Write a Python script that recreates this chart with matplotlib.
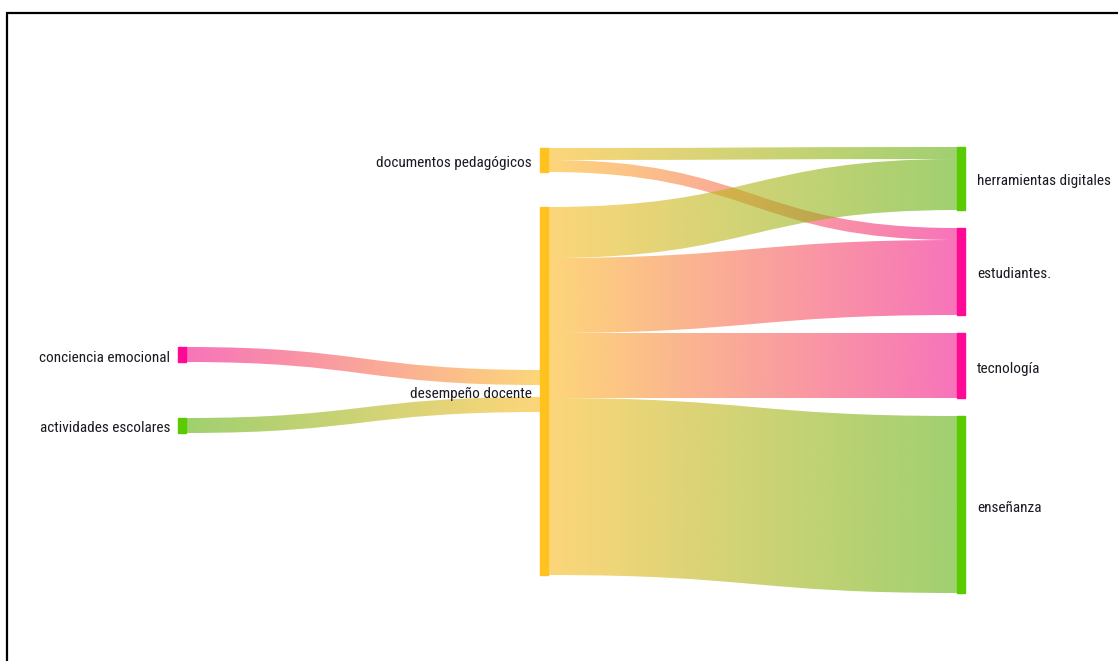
import numpy as np
import matplotlib.pyplot as plt
from matplotlib import font_manager as fm
from matplotlib.path import Path
from matplotlib.patches import PathPatch
from matplotlib.colors import to_rgb

# datos del sankey
columnas = [
    ["conciencia emocional", "actividades escolares"],
    ["documentos pedagógicos", "desempeño docente"],
    ["herramientas digitales", "estudiantes.", "tecnología", "enseñanza"],
]
origen = ["conciencia emocional", "actividades escolares",
          "documentos pedagógicos", "documentos pedagógicos",
          "desempeño docente", "desempeño docente",
          "desempeño docente", "desempeño docente"]
destino = ["desempeño docente", "desempeño docente",
           "herramientas digitales", "estudiantes.",
           "herramientas digitales", "estudiantes.",
           "tecnología", "enseñanza"]
valores = [15, 15, 12, 12, 51, 75, 65, 177]

colores_nodo = {
    "conciencia emocional": "#FF0A94", "actividades escolares": "#5ACB00",
    "documentos pedagógicos": "#FFC21E", "desempeño docente": "#FFC21E",
    "herramientas digitales": "#5ACB00", "estudiantes.": "#FF0A94",
    "tecnología": "#FF0A94", "enseñanza": "#5ACB00",
}
colores_link = {"#FF0A94": "#F2178C", "#5ACB00": "#61B111", "#FFC21E": "#FCBB21"}

# layout (pixeles)
W, H = 1118, 661
col_x = [178, 540, 957]
col_top = [347, 148, 147]
col_gap = [56, 35, 18]
ancho = 8
gap_entrada = 12

# buscar una fuente angosta, si no hay usar Liberation Sans mas chica
def buscar(fam, stretch='normal'):
    try:
        return fm.findfont(fm.FontProperties(family=fam, stretch=stretch), fallback_to_default=False)
    except ValueError:
        return None

fuente = dict(family='Liberation Sans', fontsize=9.5)
for fam, st, tam in [('Liberation Sans Narrow', 'normal', 11.5), ('Roboto Condensed', 'normal', 11),
                     ('Open Sans Condensed', 'normal', 11), ('DejaVu Sans', 'condensed', 10)]:
    p = buscar(fam, st)
    if p and (st == 'normal' or 'ondensed' in p):
        fuente = dict(family=fam, fontstretch=st, fontsize=tam)
        break

fig = plt.figure(figsize=(W / 100, H / 100), dpi=100)
ax = fig.add_axes([0, 0, 1, 1])
ax.set_xlim(0, W)
ax.set_ylim(H, 0)
ax.axis('off')

# tamanio de nodos
entra = {}
sale = {}
for o, d, v in zip(origen, destino, valores):
    sale[o] = sale.get(o, 0) + v
    entra[d] = entra.get(d, 0) + v

pos = {}
for c, nodos in enumerate(columnas):
    y = col_top[c]
    for n in nodos:
        alto = max(entra.get(n, 0), sale.get(n, 0))
        pos[n] = (col_x[c], y, alto)
        y += alto + col_gap[c]

# offsets de links
links = list(zip(origen, destino, valores))
y_sal = {}
for n in pos:
    y = pos[n][1]
    for i in sorted([i for i, l in enumerate(links) if l[0] == n], key=lambda i: pos[links[i][1]][1]):
        y_sal[i] = y
        y += links[i][2]
y_ent = {}
for n in pos:
    ids = sorted([i for i, l in enumerate(links) if l[1] == n], key=lambda i: pos[links[i][0]][1])
    if not ids:
        continue
    total = sum(links[i][2] for i in ids)
    alto = pos[n][2]
    if total < alto:
        total_g = total + gap_entrada * (len(ids) - 1)
        y = pos[n][1] + (alto - total_g) / 2
        g = gap_entrada
    else:
        y = pos[n][1]
        g = 0
    for i in ids:
        y_ent[i] = y
        y += links[i][2] + g

for i, (o, d, v) in enumerate(links):
    x0 = pos[o][0] + ancho
    x1 = pos[d][0]
    a0 = y_sal[i]
    a1 = y_ent[i]
    xm = (x0 + x1) / 2
    verts = [(x0, a0), (xm, a0), (xm, a1), (x1, a1),
             (x1, a1 + v), (xm, a1 + v), (xm, a0 + v), (x0, a0 + v), (x0, a0)]
    codes = [Path.MOVETO, Path.CURVE4, Path.CURVE4, Path.CURVE4,
             Path.LINETO, Path.CURVE4, Path.CURVE4, Path.CURVE4, Path.CLOSEPOLY]
    patch = PathPatch(Path(verts, codes), facecolor='none', edgecolor='none')
    ax.add_patch(patch)
    c0 = np.array(to_rgb(colores_link[colores_nodo[o]]))
    c1 = np.array(to_rgb(colores_link[colores_nodo[d]]))
    t = np.linspace(0, 1, 256)[:, None]
    grad = np.ones((1, 256, 4))
    grad[0, :, :3] = c0 * (1 - t) + c1 * t
    grad[0, :, 3] = 0.6
    im = ax.imshow(grad, extent=(x0, x1, max(a0, a1) + v, min(a0, a1)),
                   aspect='auto', interpolation='bilinear', zorder=1)
    im.set_clip_path(patch)

for c, nodos in enumerate(columnas):
    for n in nodos:
        x, y, alto = pos[n]
        ax.add_patch(plt.Rectangle((x, y), ancho, alto, color=colores_nodo[n], zorder=3))
        yc = y + alto / 2 + 3
        if c < 2:
            ax.text(x - 8, yc, n, ha='right', va='center', color='#1a1a22', zorder=4, **fuente)
        else:
            ax.text(x + ancho + 12, yc, n, ha='left', va='center', color='#1a1a22', zorder=4, **fuente)

# marco
ax.plot([7, 7, W], [H, 13, 13], color='black', lw=1.6, solid_joinstyle='miter')

ax.set_xlim(0, W)
ax.set_ylim(H, 0)
fig.savefig("out.png", dpi=100)
